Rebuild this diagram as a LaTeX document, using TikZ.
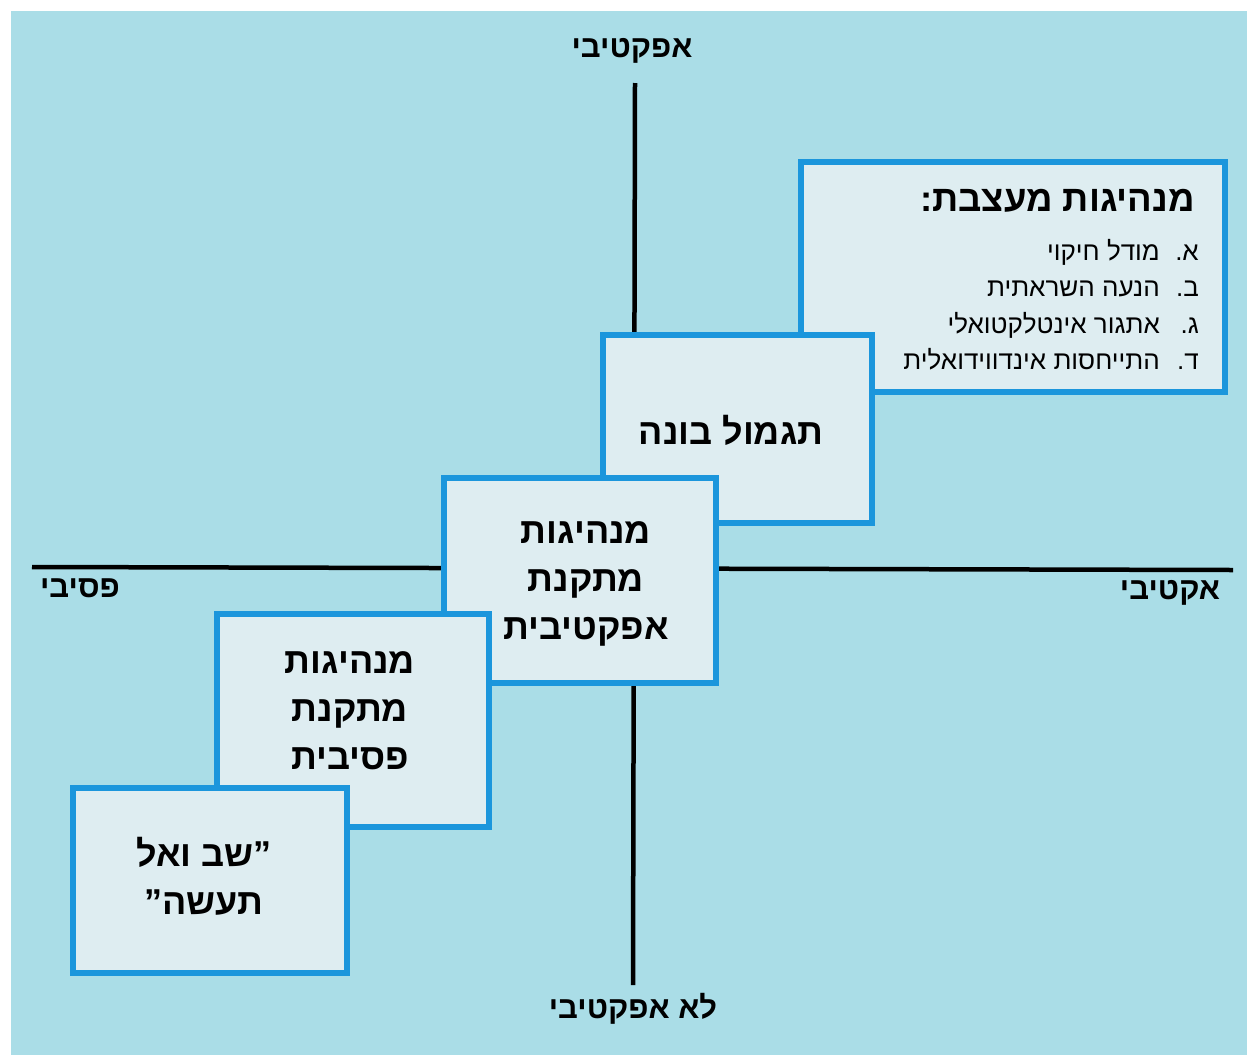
\documentclass[tikz,border=0pt]{standalone}
\usepackage{fontspec}
\newfontfamily\heb[Script=Hebrew]{Liberation Sans}
\TeXXeTstate=1
\definecolor{bgblue}{RGB}{170,221,231}
\definecolor{boxfill}{RGB}{222,237,241}
\definecolor{boxline}{RGB}{27,150,220}
\begin{document}
\begin{tikzpicture}[x=1pt,y=-1pt,
  panel/.style={draw=boxline, line width=6pt, fill=boxfill, rectangle, inner sep=0pt},
  axisline/.style={line width=4.5pt, black},
  boxtext/.style={font=\heb\bfseries\fontsize{36}{48}\selectfont, align=center, text=black, inner sep=0pt},
  axislabel/.style={font=\heb\bfseries\fontsize{31}{36}\selectfont, inner sep=0pt},
  titletext/.style={font=\heb\bfseries\fontsize{36.5}{48}\selectfont, inner sep=0pt, anchor=base east},
  listitem/.style={font=\heb\fontsize{26}{30}\selectfont, inner sep=0pt, anchor=base east}]
\useasboundingbox (0,0) rectangle (1247,1055);
\fill[white] (0,0) rectangle (1247,1055);
\fill[bgblue] (11,11) rectangle (1247,1055);
% axes
\coordinate (vt) at (635,83);
\coordinate (vb) at (633,985);
\coordinate (hl) at (32,567);
\coordinate (hr) at (1233,570);
\draw[axisline] (vt) -- (vb);
\draw[axisline] (hl) -- (hr);
\node[axislabel] (lt) at (632,51) {\beginR אפקטיבי\endR};
\node[axislabel] (lb) at (633,1009) {\beginR לא אפקטיבי\endR};
\node[axislabel] (ll) at (80,588) {\beginR פסיבי\endR};
\node[axislabel] (lr) at (1170,593) {\beginR אקטיבי\endR};
% boxes
\node[panel, minimum width=423.5pt, minimum height=230pt] (b1) at (1013,276.5) {};
\node[titletext] (t1) at (1195,211) {\beginR מנהיגות מעצבת:\endR};
\node[listitem] (i1l) at (1199,260) {\beginR א.\endR};
\node[listitem] (i1) at (1160,260) {\beginR מודל חיקוי\endR};
\node[listitem] (i2l) at (1199,296.5) {\beginR ב.\endR};
\node[listitem] (i2) at (1160,296.5) {\beginR הנעה השראתית\endR};
\node[listitem] (i3l) at (1199,333) {\beginR ג.\endR};
\node[listitem] (i3) at (1160,333) {\beginR אתגור אינטלקטואלי\endR};
\node[listitem] (i4l) at (1199,369) {\beginR ד.\endR};
\node[listitem] (i4) at (1160,369) {\beginR התייחסות אינדווידואלית\endR};
\node[panel, minimum width=269pt, minimum height=188pt] (b2) at (737.5,429) {};
\node[boxtext] (t2) at (731,430) {\beginR תגמול בונה\endR};
\node[panel, minimum width=271.5pt, minimum height=205pt] (b3) at (580,580) {};
\node[boxtext] (t3) at (586,584) {\beginR מנהיגות\endR\\\beginR מתקנת\endR\\\beginR אפקטיבית\endR};
\node[panel, minimum width=272.5pt, minimum height=212.5pt] (b4) at (353,720.5) {};
\node[boxtext] (t4) at (350,711) {\beginR מנהיגות\endR\\\beginR מתקנת\endR\\\beginR פסיבית\endR};
\node[panel, minimum width=274.5pt, minimum height=185pt] (b5) at (210,880) {};
\node[boxtext] (t5) at (204,876) {\beginR ”שב ואל\endR\\\beginR תעשה”\endR};
\end{tikzpicture}
\end{document}
